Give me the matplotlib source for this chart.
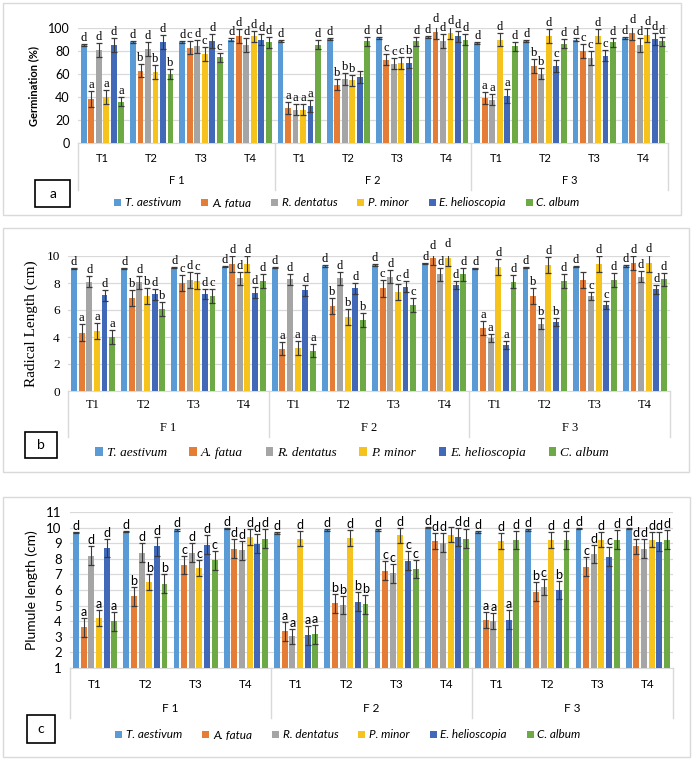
import matplotlib.pyplot as plt
from matplotlib.patches import Rectangle, Patch
import numpy as np

# Data: 12 groups = F1 (T1..T4), F2 (T1..T4), F3 (T1..T4)
species = ["T. aestivum", "A. fatua", "R. dentatus", "P. minor", "E. helioscopia", "C. album"]
colors = ["#5B9BD5", "#E57D36", "#A5A5A5", "#F6C21C", "#4169B8", "#6DAA45"]
treat_labels = ["T1", "T2", "T3", "T4"]
field_labels = ["F 1", "F 2", "F 3"]

# (a) germination (%)
germ = [
    [85.5, 88, 88, 90, 89, 90.4, 91.3, 92, 87, 89, 90, 91.3],
    [38.5, 63, 83, 93, 30.4, 50.7, 72.5, 96.5, 39, 66.7, 79.7, 95.6],
    [81, 82, 84, 85.5, 29, 55.6, 69, 88.4, 37.7, 60.3, 74, 85.5],
    [40, 61.5, 77.5, 92.8, 29, 54.5, 69.6, 95.6, 90, 92.8, 92.8, 94.2],
    [85.5, 88, 88.7, 90, 32, 57.4, 70, 92.8, 40.6, 67, 76, 90.4],
    [36, 60, 74.5, 87.5, 85.5, 88.4, 88.4, 90, 84, 86.4, 87.5, 88.4],
]
germ_err = [
    [1, 1, 1, 1, 1, 1, 1, 1, 1, 1, 1, 1],
    [7, 6, 6, 6, 5, 5, 5, 6, 5, 6, 6, 6],
    [6, 6, 6, 6, 5, 5, 5, 6, 5, 5, 6, 6],
    [6, 6, 6, 5, 5, 5, 5, 5, 6, 6, 6, 6],
    [6, 6, 6, 5, 5, 5, 5, 5, 6, 5, 5, 5],
    [4, 4, 4, 5, 4, 4, 4, 5, 4, 4, 4, 4],
]
germ_let = [
    ["d"] * 12,
    ["a", "b", "c", "d", "a", "b", "c", "d", "a", "b", "c", "d"],
    ["d", "d", "d", "d", "a", "b", "c", "d", "a", "b", "c", "d"],
    ["a", "b", "c", "d", "a", "b", "c", "d", "d", "d", "d", "d"],
    ["d", "d", "d", "d", "a", "", "b", "d", "a", "c", "c", "d"],
    ["a", "b", "c", "d", "d", "d", "d", "d", "d", "d", "d", "d"],
]

# (b) radical length (cm)
rad = [
    [9.08, 9.08, 9.13, 9.2, 9.13, 9.26, 9.33, 9.45, 9.08, 9.16, 9.2, 9.26],
    [4.33, 6.9, 8.02, 9.38, 3.14, 6.29, 7.6, 9.83, 4.68, 7.03, 8.22, 9.5],
    [8.1, 8.04, 8.2, 8.34, 8.27, 8.34, 8.47, 8.64, 3.94, 5.0, 7.05, 8.47],
    [4.43, 7.03, 8.17, 9.38, 3.2, 5.5, 7.35, 9.83, 9.2, 9.33, 9.38, 9.45],
    [7.1, 7.15, 7.18, 7.28, 7.47, 7.6, 7.72, 7.85, 3.44, 5.12, 6.36, 7.52],
    [4.0, 6.06, 7.03, 8.14, 3.0, 5.25, 6.36, 8.64, 8.1, 8.14, 8.22, 8.27],
]
rad_err = [
    [0.05] * 12,
    [0.6, 0.6, 0.6, 0.6, 0.5, 0.6, 0.6, 0.5, 0.5, 0.6, 0.6, 0.5],
    [0.4, 0.5, 0.6, 0.5, 0.4, 0.5, 0.5, 0.5, 0.3, 0.4, 0.3, 0.4],
    [0.6, 0.6, 0.6, 0.6, 0.5, 0.6, 0.6, 0.6, 0.6, 0.6, 0.6, 0.6],
    [0.4, 0.4, 0.4, 0.4, 0.4, 0.4, 0.4, 0.3, 0.3, 0.3, 0.3, 0.3],
    [0.5, 0.5, 0.5, 0.5, 0.5, 0.5, 0.5, 0.5, 0.5, 0.5, 0.5, 0.5],
]
rad_let = [
    ["d"] * 12,
    ["a", "b", "c", "d", "a", "b", "c", "d", "a", "b", "", "d"],
    ["d", "d", "d", "d", "d", "d", "d", "d", "a", "b", "c", "d"],
    ["a", "b", "c", "d", "a", "b", "c", "d", "d", "d", "d", "d"],
    ["d", "d", "d", "d", "d", "d", "d", "d", "a", "b", "c", "d"],
    ["a", "b", "c", "d", "a", "b", "c", "d", "d", "d", "d", "d"],
]

# (c) plumule length (cm)
plum = [
    [9.7, 9.75, 9.85, 9.95, 9.66, 9.83, 9.83, 10.0, 9.72, 9.83, 9.94, 9.94],
    [3.6, 5.6, 7.6, 8.66, 3.34, 5.15, 7.23, 9.15, 4.09, 5.9, 7.49, 8.8],
    [8.2, 8.4, 8.4, 8.55, 3.02, 5.04, 7.06, 9.04, 4.02, 6.2, 8.3, 8.66],
    [4.2, 6.5, 7.4, 9.4, 9.3, 9.34, 9.5, 9.55, 9.15, 9.2, 9.23, 9.23],
    [8.7, 8.8, 8.9, 8.98, 3.09, 5.26, 7.87, 9.4, 4.09, 6.0, 8.13, 9.1],
    [4.0, 6.4, 7.9, 9.3, 3.17, 5.09, 7.34, 9.3, 9.2, 9.2, 9.23, 9.23],
]
plum_err = [
    [0.05] * 12,
    [0.6, 0.6, 0.6, 0.6, 0.6, 0.6, 0.6, 0.5, 0.5, 0.6, 0.6, 0.5],
    [0.6, 0.6, 0.6, 0.6, 0.5, 0.6, 0.6, 0.6, 0.5, 0.5, 0.6, 0.6],
    [0.5, 0.5, 0.5, 0.5, 0.5, 0.5, 0.5, 0.5, 0.5, 0.5, 0.5, 0.5],
    [0.6, 0.6, 0.6, 0.6, 0.6, 0.6, 0.6, 0.6, 0.6, 0.6, 0.6, 0.6],
    [0.6, 0.6, 0.6, 0.6, 0.6, 0.6, 0.6, 0.6, 0.6, 0.6, 0.6, 0.6],
]
plum_let = [
    ["d"] * 12,
    ["a", "b", "c", "d", "a", "b", "c", "d", "a", "b", "c", "d"],
    ["d", "d", "d", "d", "a", "b", "c", "d", "a", "c", "d", "d"],
    ["a", "b", "c", "d", "d", "d", "d", "", "d", "d", "d", "d"],
    ["d", "d", "d", "d", "a", "b", "c", "d", "a", "b", "c", "d"],
    ["a", "b", "c", "d", "a", "b", "c", "d", "d", "d", "d", "d"],
]

W, H = 693, 761
fig = plt.figure(figsize=(W / 100, H / 100), dpi=100)
GRID = "#D9D9D9"


def fbox(l, t, r, b):
    return [l / W, 1 - b / H, (r - l) / W, (b - t) / H]


def frame(l, t, r, b, ec=GRID, lw=1.0):
    fig.patches.append(Rectangle((l / W, 1 - b / H), (r - l) / W, (b - t) / H,
                                 transform=fig.transFigure, fill=False, ec=ec, lw=lw))


def panel(box, vals, errs, lets, ylim, yticks, ylabel, font, fs, tfs, ylfs, ylweight,
          let_font, let_fs, off_t, off_f, off_line):
    ax = fig.add_axes(fbox(*box))
    pitch, width = 0.152, 0.118
    x0 = np.arange(12) + 0.5
    for s in range(6):
        xs = x0 + (s - 2.5) * pitch
        ax.bar(xs, vals[s], width, color=colors[s], yerr=errs[s], zorder=3,
               error_kw=dict(ecolor="#3A3A3A", elinewidth=0.8, capsize=2.2, capthick=0.9, zorder=4))
        for x, v, e, t in zip(xs, vals[s], errs[s], lets[s]):
            if t:
                ax.annotate(t, (x, v + e), xytext=(0, 0), textcoords="offset pixels",
                            ha="center", va="bottom", fontsize=let_fs, family=let_font,
                            annotation_clip=False, zorder=5)
    ax.set_xlim(0, 12)
    ax.set_ylim(*ylim)
    ax.set_yticks(yticks)
    ax.set_yticklabels([str(t) for t in yticks], fontsize=tfs, family=font)
    ax.set_xticks([])
    ax.tick_params(axis="y", length=0, pad=6)
    ax.grid(axis="y", color=GRID, lw=0.9, zorder=0)
    for sp in ["left", "right", "top"]:
        ax.spines[sp].set_visible(False)
    ax.spines["bottom"].set_color(GRID)
    ax.set_ylabel(ylabel, fontsize=ylfs, family=font, fontweight=ylweight, labelpad=6)
    trans = ax.get_xaxis_transform()
    for i in range(12):
        ax.annotate(treat_labels[i % 4], (i + 0.5, 0), xycoords=trans, xytext=(0, -off_t),
                    textcoords="offset pixels", ha="center", va="center",
                    fontsize=fs, family=font, annotation_clip=False)
    for j in range(3):
        ax.annotate(field_labels[j], (4 * j + 2, 0), xycoords=trans, xytext=(0, -off_f),
                    textcoords="offset pixels", ha="center", va="center",
                    fontsize=fs, family=font, annotation_clip=False)
    hpx = (box[3] - box[1])
    for xl in [0, 4, 8, 12]:
        ax.plot([xl, xl], [0, -off_line / hpx], transform=trans, color=GRID,
                lw=1.0, clip_on=False)
    return ax


def legend(cx, cy, prop):
    handles = [Patch(facecolor=c, edgecolor="none") for c in colors]
    fig.legend(handles, species, loc="center", bbox_to_anchor=(cx / W, 1 - cy / H),
               ncol=6, frameon=False, handlelength=0.6, handleheight=0.6,
               handletextpad=0.3, columnspacing=1.7, prop=prop, borderaxespad=0)


def tag(l, t, r, b, s, font):
    frame(l, t, r, b, ec="black", lw=1.2)
    fig.text((l + r) / 2 / W, 1 - (t + b) / 2 / H, s, ha="center", va="center",
             fontsize=10, family=font)


SANS = "Lato"
SERIF = "Liberation Serif"

# panel a
frame(3, 3, 681, 215)
panel((78, 28, 668, 143), germ, germ_err, germ_let, (0, 100), list(range(0, 101, 20)),
      "Germination (%)", SANS, 8, 9, 8, "bold", SERIF, 9, 15, 37, 47)
legend(347, 203, dict(family=SANS, style="italic", size=8.5))
tag(35, 180, 70, 207, "a", SANS)

# panel b
frame(3, 228, 689, 472)
panel((68, 256, 670, 391), rad, rad_err, rad_let, (0, 10), list(range(0, 11, 2)),
      "Radical Length (cm)", SERIF, 9, 9.5, 11, "normal", SERIF, 9, 14, 37, 46)
legend(352, 453, dict(family=SERIF, style="italic", size=9.5))
tag(25, 432, 57, 458, "b", SANS)

# panel c
frame(3, 497, 690, 757)
panel((70, 512, 673, 668), plum, plum_err, plum_let, (1, 11), list(range(1, 12)),
      "Plumule length (cm)", SANS, 8.5, 9.5, 10, "normal", SANS, 9, 17, 40, 50)
legend(348, 735, dict(family=SANS, style="italic", size=8.5))
tag(27, 715, 55, 743, "c", SANS)

fig.savefig("out.png", dpi=100, facecolor="white")
